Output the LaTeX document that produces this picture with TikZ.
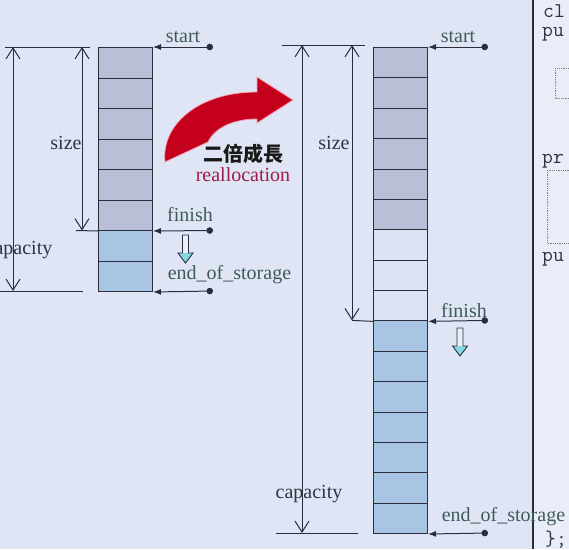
\documentclass[tikz,border=0pt]{standalone}
\usepackage{fontspec}
\setmainfont{Liberation Serif}
\newfontfamily\cjkfont{Noto Sans CJK TC}
\usetikzlibrary{arrows.meta}
\definecolor{bg}{HTML}{E0E5F5}
\definecolor{codebg}{HTML}{E9EDF8}
\definecolor{ink}{HTML}{2A2D3C}
\definecolor{used}{HTML}{B9BFD7}
\definecolor{spare}{HTML}{A8C6E4}
\definecolor{emptyc}{HTML}{DCE2F2}
\definecolor{ptrtxt}{HTML}{3D5C58}
\definecolor{dimtxt}{HTML}{2E3440}
\definecolor{redarrow}{HTML}{C4001C}
\definecolor{pinkedge}{HTML}{F2A4B6}
\definecolor{realloc}{HTML}{9B1D4A}
\definecolor{cyanhead}{HTML}{86D8E2}
\begin{document}
\begin{tikzpicture}[x=1pt,y=-1pt,
  cellL/.style={draw=ink, line width=1pt, minimum width=54pt, minimum height=30.5pt, inner sep=0pt, anchor=north west},
  cellR/.style={draw=ink, line width=1pt, minimum width=54pt, minimum height=30.375pt, inner sep=0pt, anchor=north west},
  extline/.style={draw=ink, line width=1pt},
  dimarrow/.style={draw=ink, line width=1pt, {Straight Barb[length=11pt,width=14pt,line width=1pt]}-{Straight Barb[length=11pt,width=14pt,line width=1pt]}},
  ptr/.style={draw=ink, line width=1pt, {Circle[length=6.5pt]}-{Latex[length=8pt,width=6pt]}},
  lab/.style={font=\fontsize{20}{24}\selectfont, inner sep=0pt, anchor=base},
  ptrlab/.style={lab, text=ptrtxt},
  dimlab/.style={lab, text=dimtxt},
  code/.style={font=\ttfamily\fontsize{21}{25}\selectfont, text=dimtxt, inner sep=0pt, anchor=base west},
  hollowdn/.pic={
    \fill[codebg] (-3,0) rectangle (3,18);
    \fill[cyanhead] (-7.5,18) -- (0,28) -- (7.5,18) -- cycle;
    \draw[ink, line width=0.9pt, line join=miter] (-3,0) -- (-3,18) -- (-7.5,18) -- (0,28) -- (7.5,18) -- (3,18) -- (3,0) -- cycle;
  }
]
\useasboundingbox (0,0) rectangle (569,549);
\clip (0,0) rectangle (569,549);
\fill[bg] (0,0) rectangle (569,549);
\fill[codebg] (533,0) rectangle (569,549);

% code panel
\coordinate (sepTop) at (533,0);
\coordinate (sepBot) at (533,549);
\draw[ink, line width=1.2pt] (sepTop) -- (sepBot);
\node[code] (c1) at (543,17) {cl};
\node[code] (c2) at (542,36) {pu};
\draw[gray, densely dotted, line width=0.8pt] (555,68) rectangle (585,98);
\node[code] (c3) at (542,163) {pr};
\draw[gray, densely dotted, line width=0.8pt] (547,170) rectangle (585,243);
\node[code] (c4) at (542,261) {pu};
\node[code] (c5) at (545,545) {\};};

% ---------- left vector ----------
\foreach \i in {1,...,6} \node[cellL, fill=used] (L\i) at (98,{47+(\i-1)*30.5}) {};
\foreach \i in {7,8} \node[cellL, fill=spare] (L\i) at (98,{47+(\i-1)*30.5}) {};

\coordinate (lcapT0) at (5,47);   \coordinate (lcapT1) at (90,47);
\coordinate (lcapB0) at (0,291);  \coordinate (lcapB1) at (83,291);
\draw[extline] (lcapT0) -- (lcapT1);
\draw[extline] (lcapB0) -- (lcapB1);
\coordinate (lcapA) at (13,47); \coordinate (lcapZ) at (13,291);
\draw[dimarrow] (lcapA) -- (lcapZ);
\node[dimlab] (lcaplab) at (19,254) {capacity};

\coordinate (lsizeA) at (82,47); \coordinate (lsizeZ) at (82,230.5);
\draw[dimarrow] (lsizeA) -- (lsizeZ);
\coordinate (lsizeH) at (76,230.5);
\draw[extline] (lsizeH) -- (L6.south west);
\node[dimlab] (lsizelab) at (66,149) {size};

\coordinate (lds) at (213,47);
\coordinate (ldf) at (213,230.5);
\coordinate (lde) at (213,291);
\draw[ptr] (lds) -- (L1.north east);
\draw[ptr] (ldf) -- (L6.south east);
\draw[ptr] (lde) -- (L8.south east);
\node[ptrlab] (lstart) at (183,42) {start};
\node[ptrlab] (lfinish) at (190,221) {finish};
\node[ptrlab] (lend) at (229.5,279) {end\_of\_storage};
\pic at (185.5,235) {hollowdn};

% ---------- reallocation arrow ----------
\path[fill=redarrow, draw=pinkedge, line width=0.8pt, line join=miter]
  (165,162) .. controls (161,125) and (198,92) .. (257,92)
  -- (257,77) -- (293,100) -- (257,123) -- (257,119)
  .. controls (235,119) and (215,127) .. (208,142) -- cycle;
\node[lab, font=\cjkfont\bfseries\fontsize{20}{24}\selectfont, text=black!90] (zh) at (243,161) {二倍成長};
\node[lab, text=realloc] (re) at (243,181) {reallocation};

% ---------- right vector ----------
\foreach \i in {1,...,6} \node[cellR, fill=used] (R\i) at (373,{47+(\i-1)*30.375}) {};
\foreach \i in {7,8,9} \node[cellR, fill=emptyc] (R\i) at (373,{47+(\i-1)*30.375}) {};
\foreach \i in {10,...,16} \node[cellR, fill=spare] (R\i) at (373,{47+(\i-1)*30.375}) {};

\coordinate (rcapT0) at (282,45);  \coordinate (rcapT1) at (365,45);
\coordinate (rcapB0) at (276,533); \coordinate (rcapB1) at (358,533);
\draw[extline] (rcapT0) -- (rcapT1);
\draw[extline] (rcapB0) -- (rcapB1);
\coordinate (rcapA) at (302,45); \coordinate (rcapZ) at (302,533);
\draw[dimarrow] (rcapA) -- (rcapZ);
\node[dimlab] (rcaplab) at (309,498) {capacity};

\coordinate (rsizeA) at (352,45); \coordinate (rsizeZ) at (352,320.4);
\draw[dimarrow] (rsizeA) -- (rsizeZ);
\draw[extline] (rsizeZ) -- (R9.south west);
\node[dimlab] (rsizelab) at (334,149) {size};

\coordinate (rds) at (488,47);
\coordinate (rdf) at (488,320.4);
\coordinate (rde) at (488,533);
\draw[ptr] (rds) -- (R1.north east);
\draw[ptr] (rdf) -- (R9.south east);
\draw[ptr] (rde) -- (R16.south east);
\node[ptrlab] (rstart) at (458,42) {start};
\node[ptrlab] (rfinish) at (464,317) {finish};
\node[ptrlab] (rend) at (503.5,521) {end\_of\_storage};
\pic at (460,328) {hollowdn};
\end{tikzpicture}
\end{document}
